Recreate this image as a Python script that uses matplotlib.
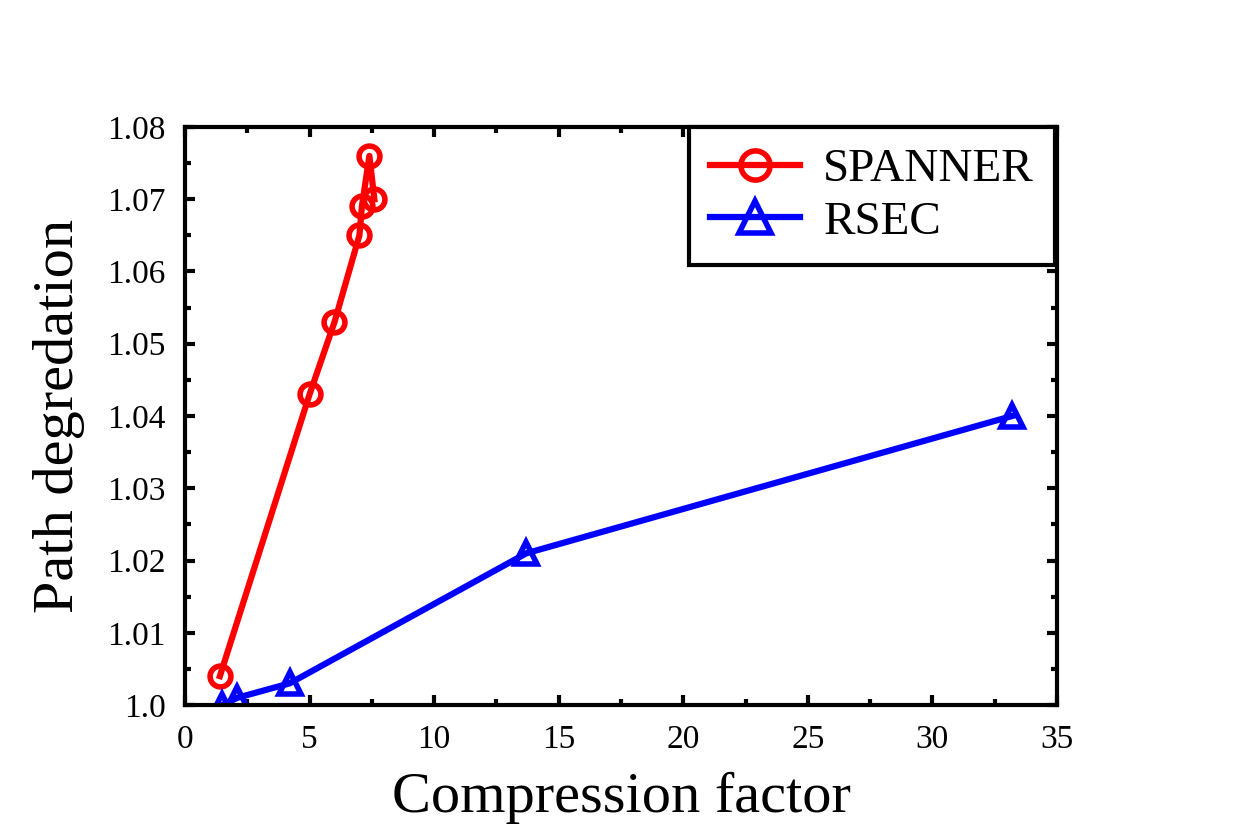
import numpy as np
import matplotlib.pyplot as plt
from matplotlib.ticker import MultipleLocator, FuncFormatter

plt.rcParams['font.family'] = ['Liberation Serif', 'DejaVu Serif']

# data
spanner_x = [1.4, 5.0, 6.0, 7.0, 7.1, 7.4, 7.6]
spanner_y = [1.004, 1.043, 1.053, 1.065, 1.069, 1.076, 1.070]
rsec_x = [1.5, 2.1, 4.2, 13.7, 33.2]
rsec_y = [1.000, 1.001, 1.003, 1.021, 1.040]

fig = plt.figure(figsize=(12.45, 8.31), dpi=100)
ax = fig.add_axes([0.1486, 0.1516, 0.7004, 0.6956])

ax.plot(spanner_x, spanner_y, color="red", linewidth=4.5, marker="o",
        markersize=15, markerfacecolor="none", markeredgewidth=4, label="SPANNER")
ax.plot(rsec_x, rsec_y, color="blue", linewidth=4.5, marker="^",
        markersize=16, markerfacecolor="none", markeredgewidth=4, label="RSEC")

ax.set_xlim(0, 35)
ax.set_ylim(1.0, 1.08)
ax.xaxis.set_major_locator(MultipleLocator(5))
ax.xaxis.set_minor_locator(MultipleLocator(2.5))
ax.yaxis.set_major_locator(MultipleLocator(0.01))
ax.yaxis.set_minor_locator(MultipleLocator(0.005))
ax.yaxis.set_major_formatter(FuncFormatter(lambda v, p: "1.0" if abs(v - 1.0) < 1e-9 else f"{v:.2f}"))

ax.tick_params(which="both", direction="in", top=True, right=True, width=3, labelsize=24)
ax.tick_params(axis="y", pad=14)
ax.tick_params(axis="x", pad=14)
ax.tick_params(which="major", length=7)
ax.tick_params(which="minor", length=4)
for s in ax.spines.values():
    s.set_linewidth(3)

ax.set_xlabel("Compression factor", fontsize=42, labelpad=12)
ax.set_ylabel("Path degredation", fontsize=42, labelpad=16)

leg = ax.legend(loc="upper right", bbox_to_anchor=(0.998, 1.0), borderaxespad=0,
                fontsize=34, fancybox=False, edgecolor="black", framealpha=1,
                markerscale=1.4, handlelength=1.9, borderpad=0.45, labelspacing=0.2,
                handletextpad=0.5)
leg.get_frame().set_linewidth(3)

fig.savefig("out.png", dpi=100)
